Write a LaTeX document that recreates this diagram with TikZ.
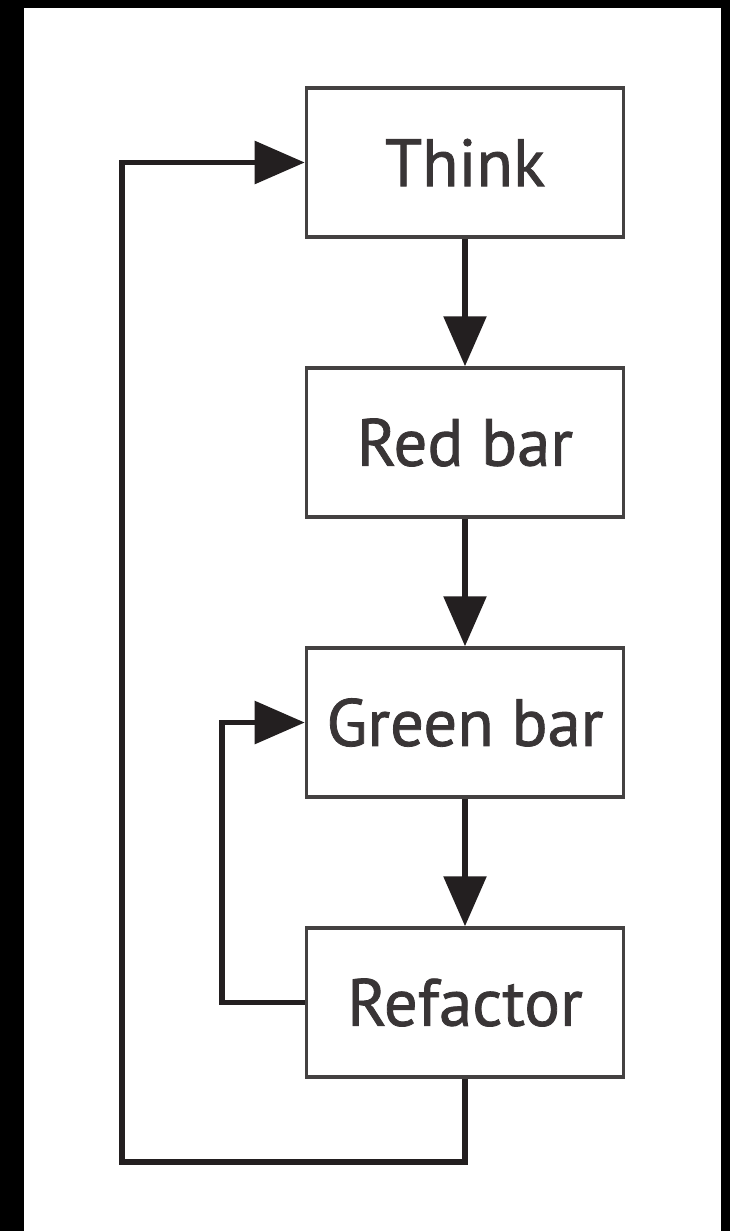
\documentclass[tikz,border=0pt]{standalone}
\usepackage{fontspec}
\setmainfont{PT Sans}
\newfontfamily\stagefont{PT Sans}[FakeBold=1.2]
\usetikzlibrary{positioning,arrows.meta}

\definecolor{ink}{HTML}{231F20}

\tikzset{
    stage/.style={draw=ink!85, line width=2pt, minimum width=6.34cm,
        minimum height=2.98cm, inner sep=0pt,
        font=\stagefont\fontsize{38}{46}\selectfont, text=ink!90},
    flow/.style={draw=ink, line width=3.3pt,
        -{Triangle[length=1cm,width=0.84cm]}}
}

\begin{document}
\begin{tikzpicture}[node distance=2.55cm]
            \useasboundingbox (0,0) rectangle (14.6,-24.62);
            \fill[black] (0,0) rectangle (14.6,-24.62);
            \fill[white] (0.48,-0.16) rectangle (14.42,-24.62);

            % the four stages
            \node[stage] (think) at (9.3,-3.25) {Think};
            \node[stage, below=of think] (red) {Red bar};
            \node[stage, below=of red] (green) {Green bar};
            \node[stage, below=of green] (refactor) {Refactor};

            \draw[flow] (think) -- (red);
            \draw[flow] (red) -- (green);
            \draw[flow] (green) -- (refactor);

            % loops back
            \coordinate (inner) at (4.44,-20);
            \coordinate (outer) at (2.44,-23.24);
            \draw[flow] (refactor.west) -| (inner) |- (green.west);
            \draw[flow] (refactor.south) |- (outer) |- (think.west);
        \end{tikzpicture}
\end{document}
